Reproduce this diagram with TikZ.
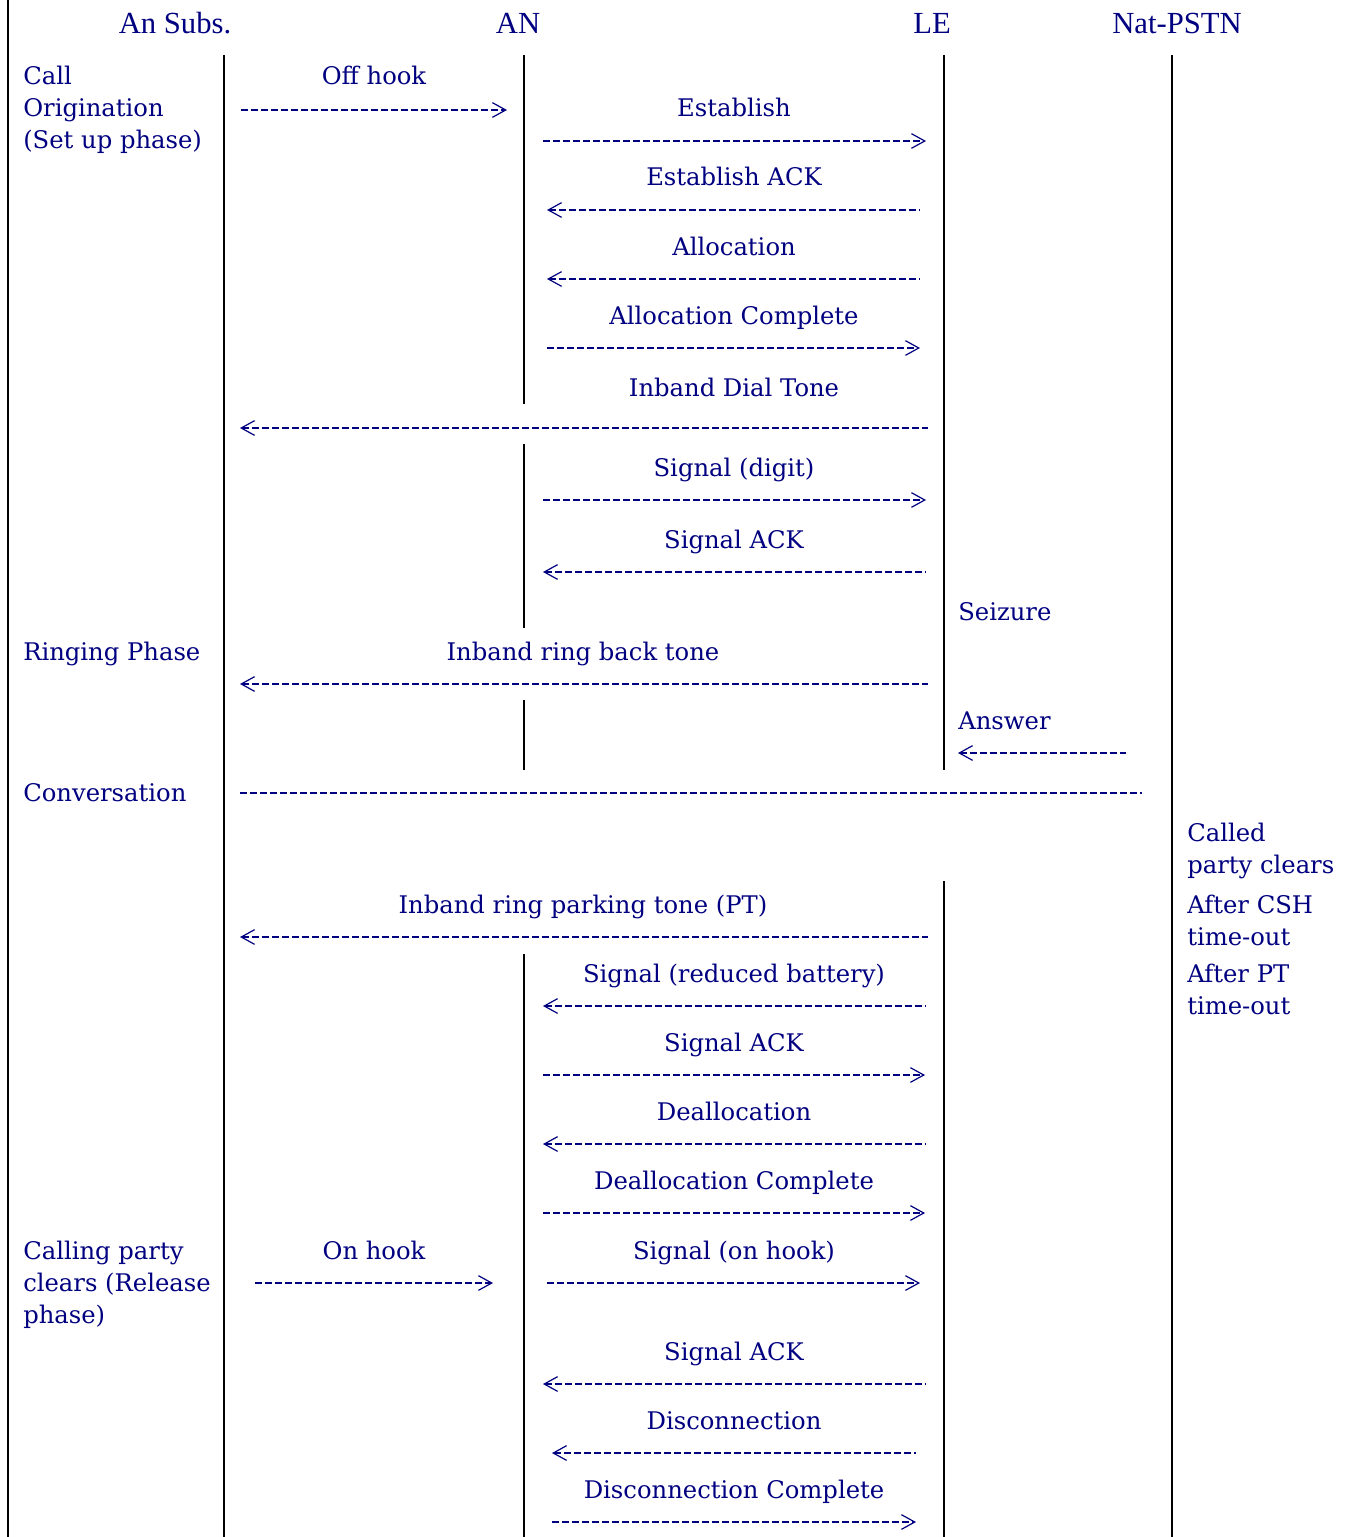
\documentclass[tikz,border=0pt]{standalone}
\usepackage{fontspec}
\setmainfont{DejaVu Serif}
\newfontfamily\headfont{Liberation Serif}
\usetikzlibrary{arrows.meta}
\definecolor{ink}{RGB}{0,0,128}

\begin{document}
\begin{tikzpicture}[x=0.75pt,y=-0.75pt,
  lane/.style={line width=1.5pt,black},
  msg/.style={ink,line width=1.1pt,dash pattern=on 5.2pt off 2.3pt},
  fwd/.style={-{Straight Barb[length=10pt,width=11pt,line width=0.9pt]}},
  back/.style={{Straight Barb[length=10pt,width=11pt,line width=0.9pt]}-},
  plain/.style={},
  lbl/.style={ink,font=\fontsize{18.2}{21}\selectfont,inner sep=0pt,anchor=base},
  side/.style={lbl,anchor=base west},
  hdr/.style={ink,font=\headfont\fontsize{23}{25}\selectfont,inner sep=0pt,anchor=base},
]
\useasboundingbox (0,0) rectangle (1356,1537);

% column headers
\node[hdr] (h-subs) at (175,34) {An Subs.};
\node[hdr] (h-an)   at (518,34) {AN};
\node[hdr] (h-le)   at (932,34) {LE};
\node[hdr] (h-nat)  at (1177,34) {Nat-PSTN};

% life lines
\coordinate (border-t) at (8,0);    \coordinate (border-b) at (8,1537);
\coordinate (subs-t) at (224,55);   \coordinate (subs-b) at (224,1537);
\coordinate (nat-t) at (1172,55);   \coordinate (nat-b) at (1172,1537);
\draw[lane] (border-t) -- (border-b);
\draw[lane] (subs-t) -- (subs-b);
\draw[lane] (nat-t) -- (nat-b);
\foreach \n/\t/\b in {an1/55/404, an2/444/628, an3/700/770, an4/954/1537}{
  \coordinate (\n-t) at (524,\t); \coordinate (\n-b) at (524,\b);
  \draw[lane] (\n-t) -- (\n-b);
}
\foreach \n/\t/\b in {le1/55/770, le2/881/1537}{
  \coordinate (\n-t) at (944,\t); \coordinate (\n-b) at (944,\b);
  \draw[lane] (\n-t) -- (\n-b);
}

% phase labels
\node[side] (ph-call1) at (23,85)  {Call};
\node[side] (ph-call2) at (23,117) {Origination};
\node[side] (ph-call3) at (23,149) {(Set up phase)};
\node[side] (ph-ring)  at (23,660) {Ringing Phase};
\node[side] (ph-conv)  at (23,801) {Conversation};
\node[side] (ph-rel1)  at (23,1259) {Calling party};
\node[side] (ph-rel2)  at (23,1291) {clears (Release};
\node[side] (ph-rel3)  at (23,1323) {phase)};

% events on the national side
\node[side] (nat-c1) at (1187,841)  {Called};
\node[side] (nat-c2) at (1187,873)  {party clears};
\node[side] (nat-c3) at (1187,913)  {After CSH};
\node[side] (nat-c4) at (1187,945)  {time-out};
\node[side] (nat-c5) at (1187,982)  {After PT};
\node[side] (nat-c6) at (1187,1014) {time-out};
\node[side] (le-seize)  at (958,620) {Seizure};
\node[side] (le-answer) at (958,729) {Answer};

% message names
\node[lbl] (m-offhook) at (374,85) {Off hook};
\node[lbl] (m-onhook)  at (374,1259) {On hook};
\foreach \n/\y/\txt in {
  est/117/{Establish},
  estack/186/{Establish ACK},
  alloc/255/{Allocation},
  alloccomp/324/{Allocation Complete},
  dial/396/{Inband Dial Tone},
  digit/476/{Signal (digit)},
  sack1/548/{Signal ACK},
  reduced/982/{Signal (reduced battery)},
  sack2/1051/{Signal ACK},
  dealloc/1120/{Deallocation},
  dealloccomp/1189/{Deallocation Complete},
  sighook/1259/{Signal (on hook)},
  sack3/1360/{Signal ACK},
  disc/1429/{Disconnection},
  disccomp/1498/{Disconnection Complete}}{
  \node[lbl] (m-\n) at (734,\y) {\txt};
}
\node[lbl] (m-ringback) at (583,660) {Inband ring back tone};
\node[lbl] (m-parking)  at (583,913) {Inband ring parking tone (PT)};

% message arrows
\foreach \n/\y/\a/\b/\d in {
  offhook/110/241/507/fwd,
  onhook/1283/255/493/fwd,
  est/141/543/926/fwd,
  estack/210/547/920/back,
  alloc/279/547/920/back,
  alloccomp/348/547/920/fwd,
  dial/428/240/928/back,
  digit/500/543/926/fwd,
  sack1/572/543/925/back,
  ringback/684/240/928/back,
  answer/753/958/1126/back,
  conv/793/240/1142/plain,
  parking/937/240/928/back,
  reduced/1006/543/925/back,
  sack2/1075/543/925/fwd,
  dealloc/1144/543/925/back,
  dealloccomp/1213/543/925/fwd,
  sighook/1283/547/920/fwd,
  sack3/1384/543/925/back,
  disc/1453/552/916/back,
  disccomp/1522/552/916/fwd}{
  \coordinate (a-\n-s) at (\a,\y);
  \coordinate (a-\n-e) at (\b,\y);
  \draw[msg,\d] (a-\n-s) -- (a-\n-e);
}
\end{tikzpicture}
\end{document}
